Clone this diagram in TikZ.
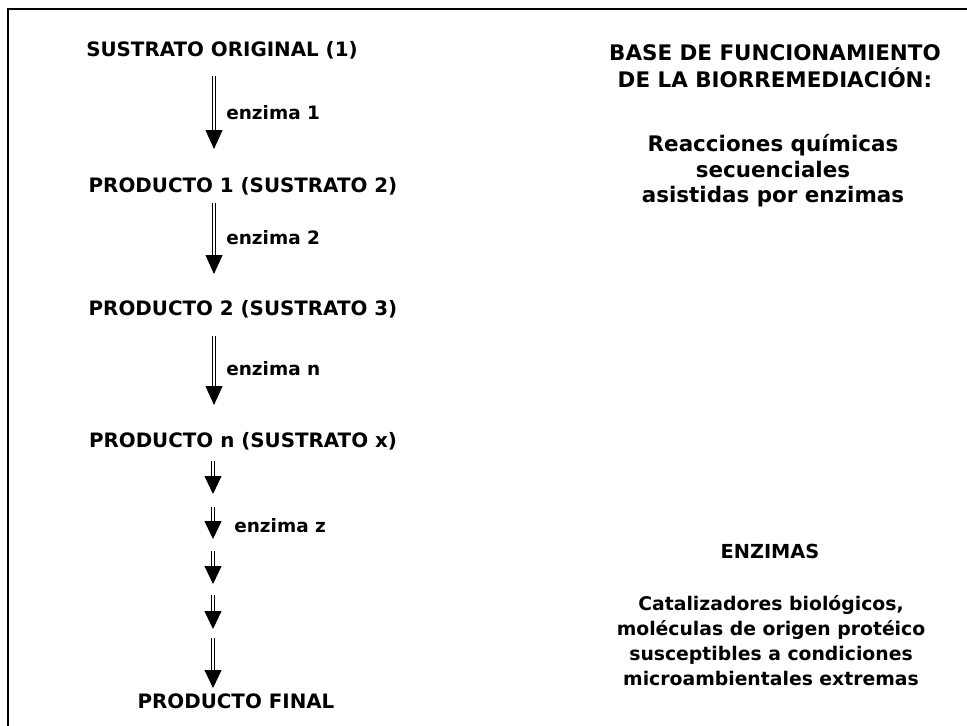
\documentclass[tikz,border=0pt]{standalone}
\usepackage{fontspec}
\setmainfont{DejaVu Sans}
\usetikzlibrary{arrows.meta,positioning}

\begin{document}
\begin{tikzpicture}[
    x=0.02cm, y=-0.02cm,
    stage/.style={font=\bfseries\fontsize{11.3}{17}\selectfont, inner sep=0pt},
    enz/.style={font=\bfseries\fontsize{10.5}{13}\selectfont, anchor=west, inner sep=0pt},
    note/.style={font=\bfseries\fontsize{12.2}{15.5}\selectfont, align=center, inner sep=0pt},
    arrow/.style={double, double distance=1.4pt, line width=0.5pt, -{Triangle[length=0.38cm, width=0.34cm]}},
    stub/.style={double, double distance=0.9pt, line width=0.5pt, -{Triangle[length=0.36cm, width=0.34cm]}}
]
\useasboundingbox (0,0) rectangle (967,726);
% frame (top and left side only)
\draw[line width=1.6pt] (8,726) -- (8,9) -- (967,9);

% left column: sequence of reactions
\node[stage] (s1) at (222,50) {SUSTRATO ORIGINAL (1)};
\node[stage] (p1) at (243,186) {PRODUCTO 1 (SUSTRATO 2)};
\node[stage] (p2) at (243,309) {PRODUCTO 2 (SUSTRATO 3)};
\node[stage] (pn) at (243,441) {PRODUCTO n (SUSTRATO x)};
\node[stage] (pf) at (236,701) {PRODUCTO FINAL};

\coordinate (a1) at (214,76);  \coordinate (b1) at (214,149);
\coordinate (a2) at (214,203); \coordinate (b2) at (214,274);
\coordinate (a3) at (214,336); \coordinate (b3) at (214,405);
\draw[arrow] (a1) -- (b1);
\draw[arrow] (a2) -- (b2);
\draw[arrow] (a3) -- (b3);
\node[enz] (e1) at (226,113) {enzima 1};
\node[enz] (e2) at (226,238) {enzima 2};
\node[enz] (e3) at (226,369) {enzima n};

% short steps towards the final product
\foreach \i/\top/\tip in {1/461/494, 2/507/539, 3/551/584, 4/595/629, 5/638/688}
    \draw[stub] (213,\top) -- (213,\tip);
\node[enz] (ez) at (234,526) {enzima z};

% right column
\node[note] (base) at (775,66) {BASE DE FUNCIONAMIENTO\\DE LA BIORREMEDIACI\'ON:};
\node[note, font=\bfseries\fontsize{12.2}{14.5}\selectfont] (reac) at (773,171) {Reacciones químicas\\secuenciales\\asistidas por enzimas};
\node[note, font=\bfseries\fontsize{11}{14}\selectfont] (enzt) at (770,551) {ENZIMAS};
\node[note, font=\bfseries\fontsize{10.7}{14.2}\selectfont] (cat) at (771,641) {Catalizadores biológicos,\\moléculas de origen protéico\\susceptibles a condiciones\\microambientales extremas};
\end{tikzpicture}
\end{document}
